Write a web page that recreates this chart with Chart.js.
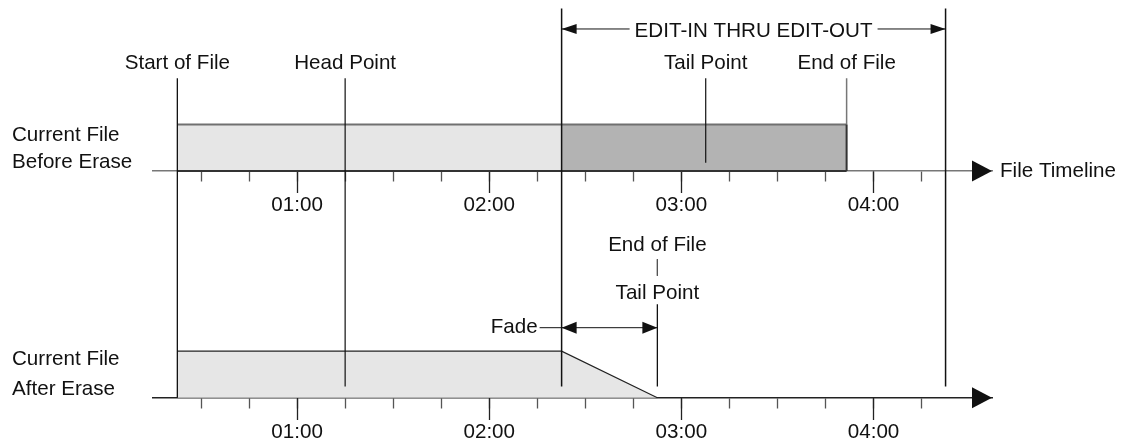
<!DOCTYPE html>
<html>
<head>
<meta charset="utf-8">
<script src="https://cdn.jsdelivr.net/npm/chart.js@4/dist/chart.umd.min.js"></script>
<style>
  html, body { margin: 0; padding: 0; background: #fff; }
  #wrap { width: 1124px; height: 442px; }
</style>
</head>
<body>
<div id="wrap"><canvas id="chart"></canvas></div>
<script>
// timeline in minutes
const axisRange = [15, 277];
const minorTicks = [30, 45, 60, 75, 90, 105, 120, 135, 150, 165, 180, 195, 210, 225, 240, 255];
const majorTicks = [60, 120, 180, 240];
const majorLabels = ["01:00", "02:00", "03:00", "04:00"];

const rowNames = [["Current File", "Before Erase"], ["Current File", "After Erase"]];
const markerNames = ["Start of File", "Head Point", "Tail Point", "End of File"];
const markerTimes = [22.6, 75, 187.6, 231.6];
const editIn = 142.6;
const editOut = 262.5;
const fadeEnd = 172.5; // tail point == end of file after the erase
const fileLevel = 1;

// vertical levels (y units, 1 = file level)
const rowBase = [4.875, 0];
const LV = {
  markerTop: 6.87, editTop: 8.37, lineLow: 0.24, tailStop: 5.05,
  markerText: 7.069, editText: 7.763, editArrow: 7.929,
  rowText: [[5.527, 4.946], [0.703, 0.058]],
  eofText: 3.155, tailText: 2.116, gapTop: [2.98, 2.62], gapLow: [2.01, 0.24],
  fadeArrow: 1.505, fadeText: 1.385, timelineText: 4.753,
};

const FONT = '20.6px "Liberation Sans", Arial, sans-serif';
Chart.defaults.font.family = '"Liberation Sans", Arial, sans-serif';
Chart.defaults.font.size = 20.6;
Chart.defaults.color = "#111";

const line = (pts, color, width, order) => ({
  data: pts, borderColor: color, borderWidth: width, pointRadius: 0, fill: false, order: order || 1,
});
const vline = (t, from, to, color, width) => line([{ x: t, y: from }, { x: t, y: to }], color || "#111", width || 1.2);

const topBase = rowBase[0], botBase = rowBase[1];
const datasets = [
  { data: [{ x: markerTimes[0], y: topBase + fileLevel }, { x: editIn, y: topBase + fileLevel }],
    fill: { value: topBase }, backgroundColor: "#e6e6e6", borderColor: "#707070", borderWidth: 2, pointRadius: 0, order: 5 },
  { data: [{ x: editIn, y: topBase + fileLevel }, { x: markerTimes[3], y: topBase + fileLevel }],
    fill: { value: topBase }, backgroundColor: "#b3b3b3", borderColor: "#707070", borderWidth: 2, pointRadius: 0, order: 5 },
  { data: [{ x: markerTimes[0], y: botBase + fileLevel }, { x: editIn, y: botBase + fileLevel }, { x: fadeEnd, y: botBase }],
    fill: { value: botBase }, backgroundColor: "#e6e6e6", borderColor: "#222", borderWidth: 1.2, pointRadius: 0, order: 5 },
  line([{ x: markerTimes[0], y: topBase }, { x: markerTimes[3], y: topBase }], "#333", 2, 2),
  vline(markerTimes[3], topBase + fileLevel, topBase, "#333", 2),
  vline(markerTimes[0], LV.markerTop, botBase, "#111", 1.3),
  vline(markerTimes[1], LV.markerTop, LV.lineLow),
  vline(markerTimes[2], LV.markerTop, LV.tailStop),
  vline(markerTimes[3], LV.markerTop, topBase + fileLevel, "#777", 1.5),
  vline(editIn, LV.editTop, LV.lineLow, "#111", 1.5),
  vline(editOut, LV.editTop, LV.lineLow, "#111", 1.5),
  vline(fadeEnd, LV.gapTop[0], LV.gapTop[1], "#555", 1),
  vline(fadeEnd, LV.gapLow[0], LV.gapLow[1], "#111", 1.3),
];

function timeAxis(level, ticks, len, color, labels, border) {
  return {
    type: "linear", min: axisRange[0], max: axisRange[1],
    position: { y: level },
    afterFit: (s) => { s.height = 0; },
    afterBuildTicks: (s) => { s.ticks = ticks.map((v) => ({ value: v })); },
    grid: { drawOnChartArea: false, drawTicks: true, tickLength: len, tickColor: color, tickWidth: 1.3 },
    border: border ? { display: true, color: border[0], width: border[1] } : { display: false },
    ticks: {
      display: !!labels, autoSkip: false, maxRotation: 0, padding: 0, color: "#111",
      callback: (v) => (labels ? labels[majorTicks.indexOf(v)] : ""),
    },
  };
}

function arrowHead(ctx, tx, ty, dir, len, half) {
  ctx.beginPath();
  ctx.moveTo(tx, ty);
  ctx.lineTo(tx - dir * len, ty - half);
  ctx.lineTo(tx - dir * len, ty + half);
  ctx.closePath();
  ctx.fill();
}

function hline(ctx, x1, x2, yy) {
  ctx.beginPath();
  ctx.moveTo(x1, yy);
  ctx.lineTo(x2, yy);
  ctx.stroke();
}

const overlay = {
  id: "overlay",
  afterDatasetsDraw(chart) {
    const { ctx, scales: { x, y } } = chart;
    const px = (v) => x.getPixelForValue(v);
    const py = (v) => y.getPixelForValue(v);
    ctx.save();
    ctx.font = FONT;
    ctx.fillStyle = "#111";
    ctx.strokeStyle = "#111";
    ctx.lineWidth = 1;
    ctx.textBaseline = "alphabetic";

    // timeline arrows
    rowBase.forEach((b) => arrowHead(ctx, x.right, py(b), 1, 20, 10.5));
    ctx.textAlign = "left";
    ctx.fillText("File Timeline", x.right + 8, py(LV.timelineText));

    // row names
    rowNames.forEach((names, r) => {
      names.forEach((n, i) => ctx.fillText(n, 12, py(LV.rowText[r][i])));
    });

    // marker names
    ctx.textAlign = "center";
    markerNames.forEach((n, i) => ctx.fillText(n, px(markerTimes[i]), py(LV.markerText)));

    // edit-in thru edit-out
    const ei = px(editIn), eo = px(editOut), ey = py(LV.editArrow);
    const label = "EDIT-IN THRU EDIT-OUT";
    const w = ctx.measureText(label).width;
    const mid = (ei + eo) / 2;
    ctx.fillText(label, mid, py(LV.editText));
    hline(ctx, ei, mid - w / 2 - 5, ey);
    hline(ctx, mid + w / 2 + 5, eo, ey);
    arrowHead(ctx, ei, ey, -1, 15, 5);
    arrowHead(ctx, eo, ey, 1, 15, 5);

    // after erase: new tail point / end of file
    ctx.fillText("End of File", px(fadeEnd), py(LV.eofText));
    ctx.fillText("Tail Point", px(fadeEnd), py(LV.tailText));

    // fade
    const fy = py(LV.fadeArrow), fe = px(fadeEnd);
    ctx.textAlign = "right";
    ctx.fillText("Fade", ei - 24, py(LV.fadeText));
    hline(ctx, ei - 22, fe, fy);
    arrowHead(ctx, ei, fy, -1, 15, 6);
    arrowHead(ctx, fe, fy, 1, 15, 6);
    ctx.restore();
  },
};

new Chart(document.getElementById("chart"), {
  type: "line",
  data: { datasets },
  options: {
    responsive: true,
    maintainAspectRatio: false,
    animation: false,
    events: [],
    layout: { padding: { left: 153, right: 132, top: 0, bottom: 0 } },
    plugins: { legend: { display: false }, tooltip: { enabled: false } },
    elements: { line: { tension: 0 } },
    scales: {
      x: timeAxis(rowBase[0], minorTicks, 10, "#555", null, ["#777", 1.5]),
      xTopMajor: timeAxis(rowBase[0], majorTicks, 22, "#222", majorLabels, null),
      xBot: timeAxis(rowBase[1], minorTicks, 10, "#555", null, ["#222", 1.5]),
      xBotMajor: timeAxis(rowBase[1], majorTicks, 22, "#222", majorLabels, null),
      y: { type: "linear", display: false, min: -0.953, max: 8.552 },
    },
  },
  plugins: [overlay],
});
</script>
</body>
</html>
